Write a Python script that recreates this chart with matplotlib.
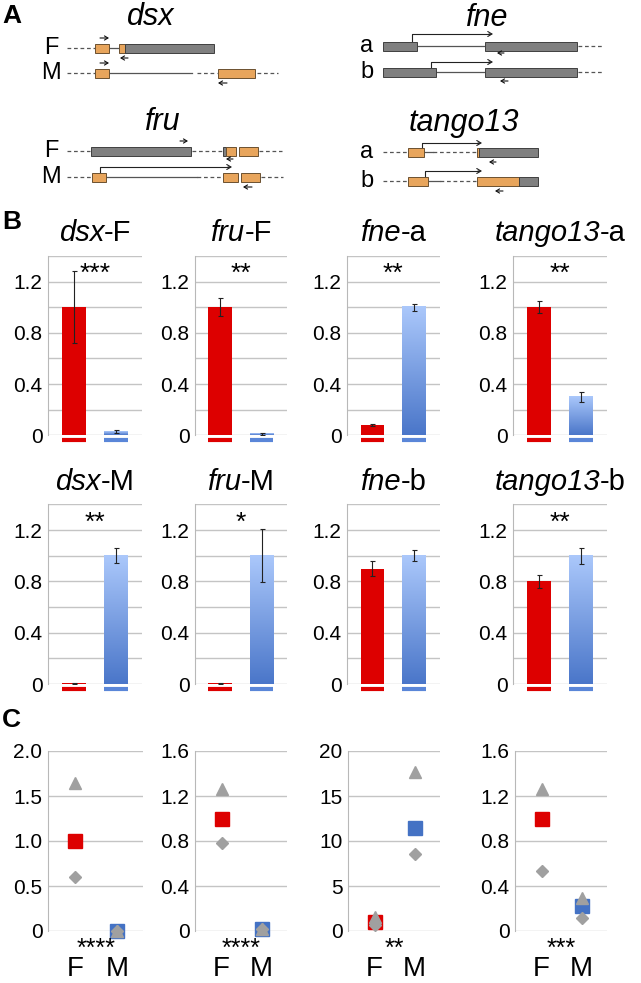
import numpy as np
import matplotlib.pyplot as plt
from matplotlib.colors import LinearSegmentedColormap

plt.rcParams['font.family'] = ['Liberation Sans', 'DejaVu Sans']

W, H = 641, 983

# ---------------- data: panel B (relative expression, F vs M) ----------------
genes = ['dsx', 'fru', 'fne', 'tango13']
iso_top = ['F', 'F', 'a', 'a']
iso_bot = ['M', 'M', 'b', 'b']
fem_top = [1.0, 1.0, 0.08, 1.0]
fem_top_err = [0.28, 0.07, 0.005, 0.045]
mal_top = [0.03, 0.01, 1.0, 0.30]
mal_top_err = [0.015, 0.01, 0.027, 0.04]
stars_top = ['***', '**', '**', '**']
fem_bot = [0.006, 0.004, 0.90, 0.80]
fem_bot_err = [0.003, 0.003, 0.055, 0.05]
mal_bot = [1.0, 1.0, 1.0, 1.0]
mal_bot_err = [0.06, 0.205, 0.045, 0.062]
stars_bot = ['**', '*', '', '**']

# ---------------- data: panel C (replicates + mean) ----------------
c_ymax = [2.0, 1.6, 20, 1.6]
c_step = [0.5, 0.4, 5, 0.4]
c_mean_f = [1.0, 1.0, 1.0, 1.0]
c_mean_m = [0.0, 0.02, 11.5, 0.225]
c_tri_f = [1.65, 1.26, 1.6, 1.26]
c_tri_m = [0.0, 0.02, 17.7, 0.29]
c_dia_f = [0.60, 0.785, 0.62, 0.536]
c_dia_m = [0.0, 0.02, 8.6, 0.12]
c_stars = ['****', '****', '**', '***']

# ---------------- data: panel A gene models (figure pixel units) ----------------
# (label, y, dashed spans, solid spans, boxes (x0, x1, kind))
dsx_rows = [('F', 48, [(67, 95)], [(109, 119)],
             [(95, 109, 'o'), (119, 125, 'o'), (125, 214, 'g')]),
            ('M', 73, [(67, 95), (197, 217), (257, 278)], [(109, 192)],
             [(95, 109, 'o'), (218, 255, 'o')])]
fru_rows = [('F', 151, [(67, 90), (192, 222), (259, 282)], [],
             [(90.7, 190.7, 'g'), (222.7, 226, 'g'), (226, 236, 'o'), (239.3, 258.3, 'o')]),
            ('M', 177, [(67, 92), (197, 223), (261, 283)], [(106, 197)],
             [(92.3, 105.7, 'o'), (223.3, 237.7, 'o'), (241, 260, 'o')])]
fne_rows = [('a', 46, [(578, 603)], [(417, 485)], [(383, 417, 'g'), (485, 577, 'g')]),
            ('b', 72, [(578, 603)], [(436, 485)], [(383, 436, 'g'), (485, 577, 'g')])]
tango_rows = [('a', 152, [(383, 407), (433, 476)], [(424, 433)],
               [(408, 424, 'o'), (476.7, 479.3, 'o'), (479.3, 538, 'g')]),
              ('b', 181, [(383, 407), (440, 476)], [(428, 440)],
               [(408, 428, 'o'), (477, 519, 'o'), (519, 538, 'g')])]
# primer arrows (x_from, x_to, y)
primers = [(100, 109, 38), (128, 120, 58), (100, 109, 63), (227, 218, 83),
           (180, 188, 141), (233, 226, 159), (252, 243, 187),
           (504, 497, 53), (508, 500, 81), (496, 489, 162), (503, 495, 191)]
# splice junction arrows (x_start, y_row, y_top, x_end)
splices = [(100, 177, 167, 232), (412, 46, 34, 493), (431, 72, 62, 493),
           (422, 152, 143, 482), (425, 181, 171, 482)]
gene_titles = [('dsx', 151, 17), ('fru', 163, 122), ('fne', 487, 18), ('tango13', 464, 123)]

RED = '#dd0000'
BLUE_SQ = '#4472c4'
GRAY = '#a0a0a0'
blue_cmap = LinearSegmentedColormap.from_list('bl', ['#4a76c9', '#abc8fb'])
box_col = {'o': '#e8a55c', 'g': '#808080'}
box_edge = {'o': '#6b5030', 'g': '#404040'}

fig = plt.figure(figsize=(W / 100, H / 100), dpi=100)


def px_axes(l, r, t, b):
    return fig.add_axes([l / W, 1 - b / H, (r - l) / W, (b - t) / H])


def base_style(ax):
    for s in ['top', 'right', 'bottom']:
        ax.spines[s].set_visible(False)
    ax.spines['left'].set_color('#b8b8b8')
    ax.tick_params(axis='both', length=0, labelsize=15, pad=4)
    ax.set_xticks([])
    ax.set_axisbelow(True)


def fmt(v):
    if v == 0:
        return '0'
    if float(v).is_integer() and v >= 5:
        return '%d' % v
    return '%.1f' % v


cols = [(48, 142), (195, 287), (347, 440), (513, 607)]
rows_b = [(256, 435.3), (504.4, 684)]
title_y = [233, 482]
XL = (-0.607, 1.615)
BW = 0.567
b_titles = []

for r, (top, bot) in enumerate(rows_b):
    fem = fem_top if r == 0 else fem_bot
    fe = fem_top_err if r == 0 else fem_bot_err
    mal = mal_top if r == 0 else mal_bot
    me = mal_top_err if r == 0 else mal_bot_err
    stars = stars_top if r == 0 else stars_bot
    iso = iso_top if r == 0 else iso_bot
    for i, (l, rr) in enumerate(cols):
        ax = px_axes(l, rr, top, bot)
        base_style(ax)
        ax.set_yticks([0, 0.4, 0.8, 1.2])
        ax.set_yticklabels([fmt(v) for v in [0, 0.4, 0.8, 1.2]])
        ax.set_yticks(np.arange(0.2, 1.41, 0.4), minor=True)
        ax.tick_params(axis='y', which='minor', length=0)
        ax.grid(axis='y', which='both', color='#c4c4c4', lw=1)
        ax.bar(0, fem[i], width=BW, color=RED, zorder=2)
        grad = np.linspace(0, 1, 256).reshape(-1, 1)
        ax.imshow(grad, cmap=blue_cmap, origin='lower', aspect='auto',
                  extent=[1 - BW / 2, 1 + BW / 2, 0, mal[i]], zorder=2)
        ax.errorbar([0, 1], [fem[i], mal[i]], yerr=[fe[i], me[i]], fmt='none',
                    ecolor='#222222', elinewidth=0.8, capsize=1.8, capthick=0.8, zorder=3)
        ax.set_xlim(*XL)
        ax.set_ylim(0, 1.4)
        ax.plot([-BW / 2, BW / 2], [-0.04, -0.04], color=RED, lw=3,
                solid_capstyle='butt', clip_on=False)
        ax.plot([1 - BW / 2, 1 + BW / 2], [-0.04, -0.04], color='#5a86d8', lw=3,
                solid_capstyle='butt', clip_on=False)
        if stars[i]:
            ax.text(0.5, 1.26, stars[i], ha='center', va='center', fontsize=19)
        b_titles.append(((l + rr) / 2, title_y[r], genes[i], iso[i]))

# ---------------- panel C ----------------
cols_c = [(48, 143), (195, 287), (348, 440), (515, 607)]
for i, (l, rr) in enumerate(cols_c):
    ax = px_axes(l, rr, 751, 931)
    base_style(ax)
    ticks = np.arange(0, c_ymax[i] + 1e-9, c_step[i])
    ax.set_yticks(ticks)
    ax.set_yticklabels([fmt(v) for v in ticks])
    ax.grid(axis='y', color='#c4c4c4', lw=1)
    ax.plot(0, c_mean_f[i], 's', ms=10, color=RED, zorder=3, clip_on=False)
    ax.plot(1, c_mean_m[i], 's', ms=10, color=BLUE_SQ, zorder=3, clip_on=False)
    ax.plot([0, 1], [c_tri_f[i], c_tri_m[i]], '^', ms=8, color=GRAY, ls='none',
            zorder=4, clip_on=False)
    ax.plot([0, 1], [c_dia_f[i], c_dia_m[i]], 'D', ms=6, color=GRAY, ls='none',
            zorder=4, clip_on=False)
    ax.set_xlim(-0.66, 1.63)
    ax.set_ylim(0, c_ymax[i])
    ax.annotate(c_stars[i], xy=(0.5, 0), xycoords=('data', 'axes fraction'),
                xytext=(0, -13), textcoords='offset points', ha='center', va='center',
                fontsize=18)
    for xx, lab in [(0, 'F'), (1, 'M')]:
        ax.annotate(lab, xy=(xx, 0), xycoords=('data', 'axes fraction'),
                    xytext=(0, -27), textcoords='offset points', ha='center',
                    va='center', fontsize=20)

# ---------------- panel A drawing + letters ----------------
ov = fig.add_axes([0, 0, 1, 1])
ov.set_xlim(0, W)
ov.set_ylim(H, 0)
ov.axis('off')
ov.patch.set_alpha(0)

BH = 9
for rows, lx in [(dsx_rows, 51), (fru_rows, 51), (fne_rows, 367), (tango_rows, 367)]:
    for lab, y, dashes, solids, boxes in rows:
        ov.text(lx, y, lab, ha='center', va='center', fontsize=17)
        for x0, x1 in dashes:
            ov.plot([x0, x1], [y, y], color='#555555', lw=0.9, ls=(0, (3, 2.2)))
        for x0, x1 in solids:
            ov.plot([x0, x1], [y, y], color='#555555', lw=0.9)
        for x0, x1, k in boxes:
            ov.add_patch(plt.Rectangle((x0, y - BH / 2), x1 - x0, BH, facecolor=box_col[k],
                                       edgecolor=box_edge[k], lw=0.7, zorder=3))

for x0, x1, y in primers:
    ov.annotate('', xy=(x1, y), xytext=(x0, y),
                arrowprops=dict(arrowstyle='->,head_length=0.25,head_width=0.15',
                                lw=0.8, color='#111111', shrinkA=0, shrinkB=0))

for x0, yr, yt, x1 in splices:
    ov.plot([x0, x0, x1 - 3], [yr - BH / 2, yt, yt], color='#222222', lw=0.8)
    ov.annotate('', xy=(x1, yt), xytext=(x1 - 4, yt),
                arrowprops=dict(arrowstyle='->,head_length=0.3,head_width=0.18',
                                lw=0.8, color='#222222', shrinkA=0, shrinkB=0))

for name, x, y in gene_titles:
    ov.text(x, y, name, ha='center', va='center', fontsize=22, style='italic')

# B titles: italic gene name followed by upright isoform suffix
renderer = fig.canvas.get_renderer()
for x, y, g, s in b_titles:
    t1 = ov.text(0, y, g, ha='left', va='center', fontsize=21, style='italic')
    t2 = ov.text(0, y, '-' + s, ha='left', va='center', fontsize=21)
    w1 = t1.get_window_extent(renderer).width
    w2 = t2.get_window_extent(renderer).width
    t1.set_x(x - (w1 + w2) / 2)
    t2.set_x(x - (w1 + w2) / 2 + w1)

for lab, y in [('A', 16), ('B', 222), ('C', 720)]:
    ov.text(2, y, lab, ha='left', va='center', fontsize=19, fontweight='bold')

fig.savefig('out.png', dpi=100)
